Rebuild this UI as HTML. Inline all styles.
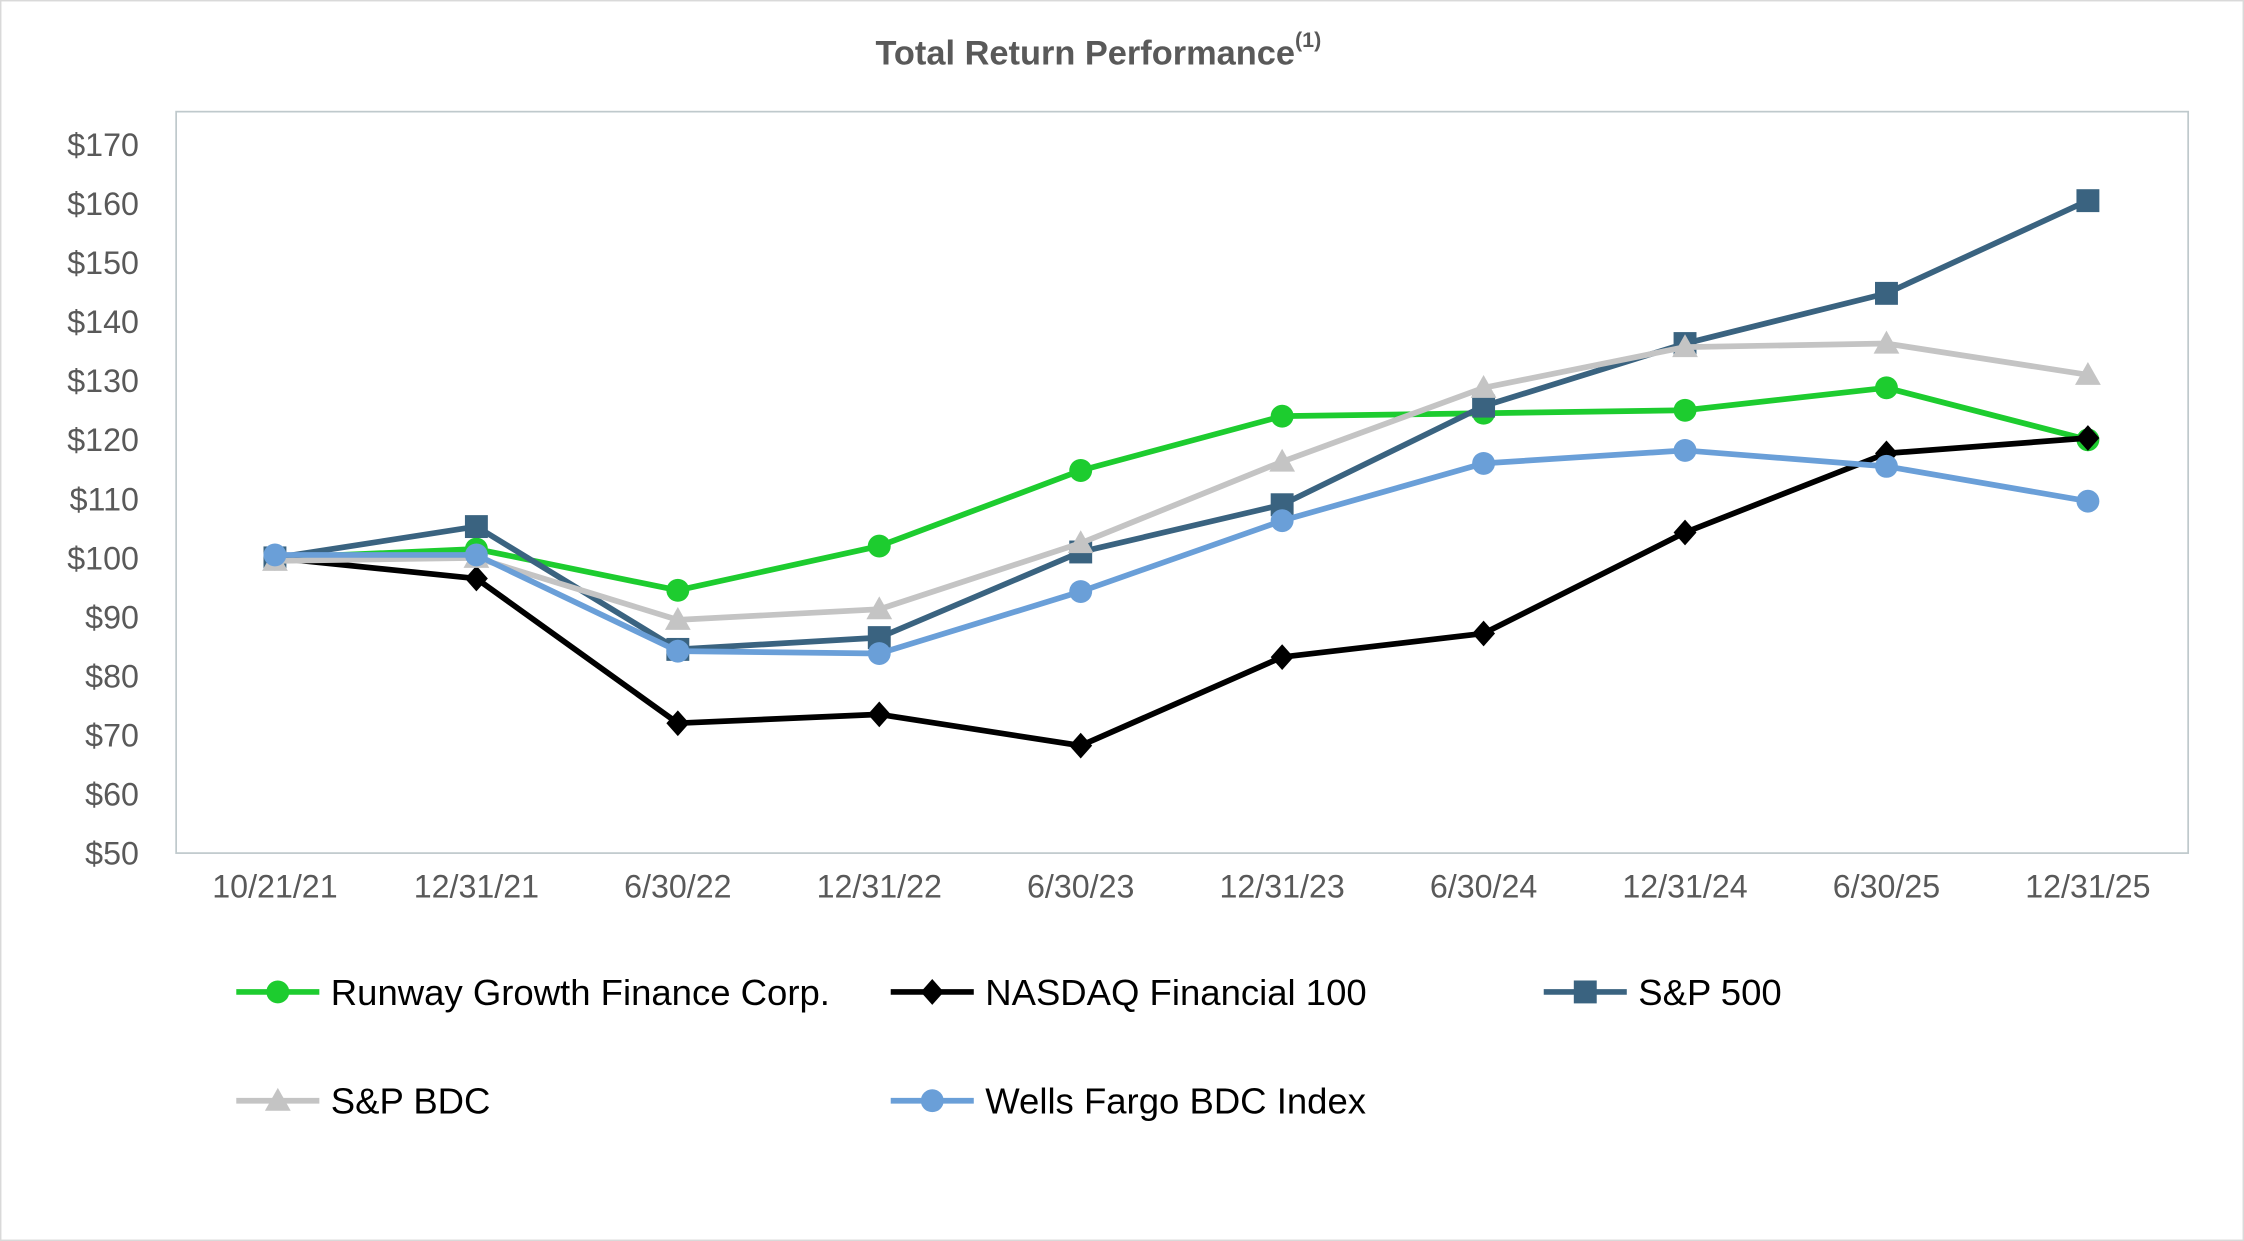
<!DOCTYPE html>
<html><head><meta charset="utf-8"><style>
html,body{margin:0;padding:0;background:#fff;width:2244px;height:1241px;overflow:hidden}
svg{display:block}
text{font-family:"Liberation Sans",sans-serif}
</style></head><body>
<svg id="chart" width="2244" height="1241" viewBox="0 0 1567 867" preserveAspectRatio="none" xmlns="http://www.w3.org/2000/svg">
<rect x="0.5" y="0.5" width="1566" height="866" fill="#fff" stroke="#d9d9d9"/>
<text x="767" y="45" text-anchor="middle" font-size="24" font-weight="bold" fill="#595959">Total Return Performance<tspan dy="-12" font-size="15">(1)</tspan></text>
<rect x="123" y="78" width="1405" height="518" fill="none" stroke="#bfc9cc" stroke-width="1.2"/>
<g id="yticks"></g><g id="xticks"></g><g id="series"></g><g id="legend"></g>
</svg>
<script>
const categories=["10/21/21","12/31/21","6/30/22","12/31/22","6/30/23","12/31/23","6/30/24","12/31/24","6/30/25","12/31/25"];
const yTicks=[50,60,70,80,90,100,110,120,130,140,150,160,170];
const runway=[100,101.5,94.5,102,114.8,124,124.5,125,128.8,120];
const nasdaq=[100,96.5,72,73.5,68.2,83.2,87.2,104.3,117.7,120.3];
const sp500=[100,105.3,84.5,86.5,101,109,125.7,136.3,144.8,160.5];
const spbdc=[99.5,100,89.5,91.3,102.5,116.3,128.8,135.7,136.3,131];
const wells=[100.5,100.5,84.2,83.8,94.3,106.3,116,118.2,115.5,109.6];
const NS="http://www.w3.org/2000/svg";
function xS(i){return 192+i*(1458-192)/(categories.length-1);}
function yS(v){return 596-(v-50)*(596-101)/120;}
function mk(tag,attrs,parent){const e=document.createElementNS(NS,tag);for(const k in attrs)e.setAttribute(k,attrs[k]);parent.appendChild(e);return e;}
const yg=document.getElementById('yticks');
yTicks.forEach(v=>{const t=mk('text',{x:97,y:yS(v)+8,'text-anchor':'end','font-size':22.5,fill:'#595959'},yg);t.textContent='$'+v;

});
const xg=document.getElementById('xticks');
categories.forEach((c,i)=>{const t=mk('text',{x:xS(i),y:627,'text-anchor':'middle','font-size':22.5,fill:'#595959'},xg);t.textContent=c;

});
function marker(g,shape,x,y,color){
 let m;
 if(shape==='circle')m=mk('circle',{cx:x,cy:y,r:8,fill:color},g);
 else if(shape==='diamond')m=mk('polygon',{points:`${x},${y-9} ${x+8},${y} ${x},${y+9} ${x-8},${y}`,fill:color},g);
 else if(shape==='square')m=mk('rect',{x:x-8,y:y-8,width:16,height:16,fill:color},g);
 else m=mk('polygon',{points:`${x},${y-9} ${x+9},${y+7} ${x-9},${y+7}`,fill:color},g);
 return m;}
const series=[
 {name:'Runway Growth Finance Corp.',vals:runway,color:'#1dcc2f',shape:'circle',key:'runway-growth',lx:165,ly:693},
 {name:'NASDAQ Financial 100',vals:nasdaq,color:'#000000',shape:'diamond',key:'nasdaq-financial-100',lx:622,ly:693},
 {name:'S&P 500',vals:sp500,color:'#3a6380',shape:'square',key:'sp-500',lx:1078,ly:693},
 {name:'S&P BDC',vals:spbdc,color:'#c4c4c4',shape:'triangle',key:'sp-bdc',lx:165,ly:769},
 {name:'Wells Fargo BDC Index',vals:wells,color:'#6a9fd8',shape:'circle',key:'wells-fargo-bdc',lx:622,ly:769}
];
const sg=document.getElementById('series');
series.forEach(s=>{
 const g=mk('g',{},sg);
 
 
 const pl=mk('polyline',{points:s.vals.map((v,i)=>xS(i)+','+yS(v)).join(' '),fill:'none',stroke:s.color,'stroke-width':4,'stroke-linejoin':'round'},g);
 
 
 s.vals.forEach((v,i)=>{const m=marker(g,s.shape,xS(i),yS(v),s.color);
  
  });
});
const lg=document.getElementById('legend');
series.forEach(s=>{
 const g=mk('g',{},lg);
 
 
 mk('line',{x1:s.lx,y1:s.ly,x2:s.lx+58,y2:s.ly,stroke:s.color,'stroke-width':4},g);
 marker(g,s.shape,s.lx+29,s.ly,s.color);
 const t=mk('text',{x:s.lx+66,y:s.ly+9,'font-size':25.5,fill:'#000'},g);t.textContent=s.name;
 
 
});
</script>
</body></html>
